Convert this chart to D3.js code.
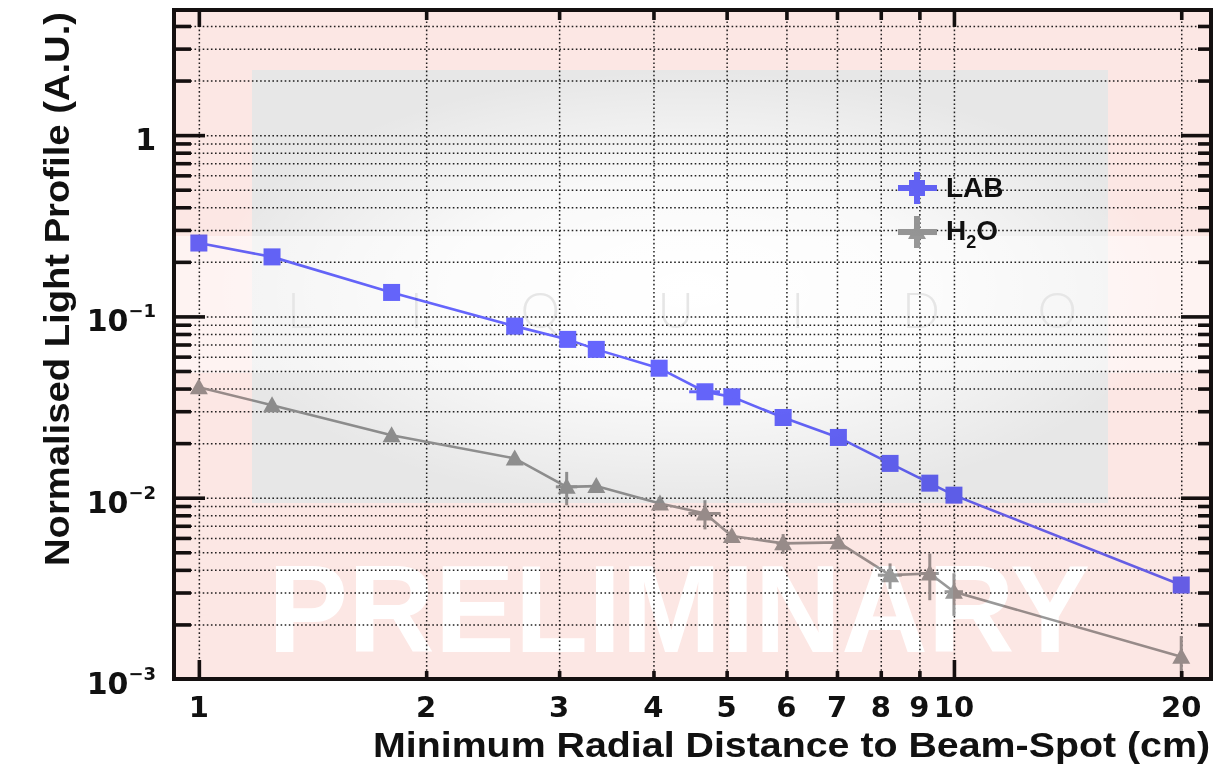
<!DOCTYPE html>
<html>
<head>
<meta charset="utf-8">
<script src="https://cdn.jsdelivr.net/npm/d3@7"></script>
<style>
  body { margin: 0; background: #fff; }
  svg { display: block; font-family: "Liberation Sans", Arial, sans-serif; }
</style>
</head>
<body>
<svg id="chart" width="1216" height="766"></svg>
<script>
// Light profile vs. minimum radial distance from the beam spot
const radiusLAB = [1.0, 1.25, 1.80, 2.62, 3.08, 3.36, 4.07, 4.68, 5.08, 5.94, 7.03, 8.23, 9.29, 10.0, 20.0];
const lightLAB  = [0.254, 0.213, 0.1356, 0.0884, 0.0747, 0.0658, 0.0518, 0.0384, 0.0360, 0.0277, 0.0215, 0.01546, 0.01203, 0.01033, 0.0033];
const xErrLAB   = [0, 0, 0, 0, 0, 0, 0, 0.22, 0, 0, 0, 0, 0, 0, 0];
const yErrLAB   = [0, 0, 0, 0, 0, 0, 0, 0, 0, 0, 0, 0, 0, 0, 0];

const radiusH2O = [1.0, 1.25, 1.80, 2.62, 3.07, 3.36, 4.08, 4.68, 5.08, 5.94, 7.03, 8.23, 9.29, 10.0, 20.0];
const lightH2O  = [0.0407, 0.0324, 0.0221, 0.01647, 0.01148, 0.01159, 0.0093, 0.00819, 0.00614, 0.0056, 0.00567, 0.00374, 0.00382, 0.00303, 0.001326];
const xErrH2O   = [0, 0, 0, 0, 0.10, 0, 0, 0.23, 0, 0.12, 0, 0.30, 0.26, 0.28, 0];
const yErrH2O   = [0.001, 0.0008, 0.0005, 0.0008, 0.0024, 0.0004, 0.0004, 0.0015, 0.0003, 0.0007, 0.0003, 0.0006, 0.0011, 0.0008, 0.0004];

const xTickValues = [1, 2, 3, 4, 5, 6, 7, 8, 9, 10, 20];
const xMajorTicks = [1, 10];
const yDecades    = [0.001, 0.01, 0.1, 1];
const yDecadeExp  = [-3, -2, -1, 0];

const xTitle = "Minimum Radial Distance to Beam-Spot (cm)";
const yTitle = "Normalised Light Profile (A.U.)";

const colLAB = "#6666ff";
const colH2O = "#999999";

const svg = d3.select("#chart");
const frame = { left: 174, right: 1211, top: 10, bottom: 679 };
const fw = frame.right - frame.left, fh = frame.bottom - frame.top;

const x = d3.scaleLog().domain([0.927, 21.9]).range([frame.left, frame.right]);
const y = d3.scaleLog().domain([0.001, 4.9]).range([frame.bottom, frame.top]);

// all 1..9 x 10^k values inside the y range
const yGrid = [];
for (let k = -3; k <= 0; k++) for (let m = 1; m <= 9; m++) {
  const v = m * Math.pow(10, k);
  if (v > 0.001 && v < 4.9) yGrid.push(+v.toPrecision(3));
}
const yMinor = yGrid.filter(v => !yDecades.includes(v));
const xMinor = xTickValues.filter(v => !xMajorTicks.includes(v));

const defs = svg.append("defs");
defs.append("clipPath").attr("id", "plotclip").append("rect")
  .attr("x", frame.left).attr("y", frame.top).attr("width", fw).attr("height", fh);

// ---- grid (dotted) ----
const grid = svg.append("g");
grid.append("g").attr("transform", `translate(${frame.left},0)`)
  .call(d3.axisLeft(y).tickValues(yGrid).tickSize(-fw).tickFormat(""))
  .call(g => g.select(".domain").remove());
grid.append("g").attr("transform", `translate(0,${frame.bottom})`)
  .call(d3.axisBottom(x).tickValues(xTickValues).tickSize(-fh).tickFormat(""))
  .call(g => g.select(".domain").remove());
grid.selectAll(".tick line")
  .attr("stroke", "#222").attr("stroke-width", 1.5).attr("stroke-dasharray", "1.6,2.5");

// ---- data ----
const lab = radiusLAB.map((r, i) => ({ r, v: lightLAB[i], ex: xErrLAB[i], ey: yErrLAB[i] }));
const h2o = radiusH2O.map((r, i) => ({ r, v: lightH2O[i], ex: xErrH2O[i], ey: yErrH2O[i] }));

const line = d3.line().x(d => x(d.r)).y(d => y(d.v));
const plot = svg.append("g").attr("clip-path", "url(#plotclip)");

function drawSeries(data, color, marker) {
  const g = plot.append("g");
  g.append("path").datum(data).attr("d", line)
    .attr("fill", "none").attr("stroke", color).attr("stroke-width", 2.6);
  // error bars
  g.selectAll("line.ey").data(data.filter(d => d.ey > 0)).join("line")
    .attr("x1", d => x(d.r)).attr("x2", d => x(d.r))
    .attr("y1", d => y(d.v + d.ey)).attr("y2", d => y(Math.max(d.v - d.ey, 1e-4)))
    .attr("stroke", color).attr("stroke-width", 3);
  g.selectAll("line.ex").data(data.filter(d => d.ex > 0)).join("line")
    .attr("x1", d => x(d.r - d.ex)).attr("x2", d => x(d.r + d.ex))
    .attr("y1", d => y(d.v)).attr("y2", d => y(d.v))
    .attr("stroke", color).attr("stroke-width", 3);
  if (marker === "square") {
    g.selectAll("rect").data(data).join("rect")
      .attr("x", d => x(d.r) - 8.5).attr("y", d => y(d.v) - 8.5)
      .attr("width", 17).attr("height", 17).attr("fill", color);
  } else {
    g.selectAll("path.m").data(data).join("path").attr("class", "m")
      .attr("d", d => { const cx = x(d.r), cy = y(d.v);
        return `M${cx - 9},${cy + 7}L${cx + 9},${cy + 7}L${cx},${cy - 9}Z`; })
      .attr("fill", color);
  }
}
drawSeries(lab, colLAB, "square");
drawSeries(h2o, colH2O, "triangle");

// ---- legend ----
const leg = svg.append("g");
function legendEntry(cy, color, marker) {
  leg.append("line").attr("x1", 898).attr("x2", 937).attr("y1", cy).attr("y2", cy)
    .attr("stroke", color).attr("stroke-width", 6);
  leg.append("line").attr("x1", 917).attr("x2", 917).attr("y1", cy - 16).attr("y2", cy + 16)
    .attr("stroke", color).attr("stroke-width", 6);
  if (marker === "square") {
    leg.append("rect").attr("x", 909).attr("y", cy - 8).attr("width", 16).attr("height", 16).attr("fill", color);
  } else {
    leg.append("path").attr("d", `M${908},${cy + 7}L${926},${cy + 7}L${917},${cy - 9}Z`).attr("fill", color);
  }
}
legendEntry(188, colLAB, "square");
legendEntry(232, colH2O, "triangle");
leg.append("text").attr("x", 946).attr("y", 197).attr("font-size", 28).attr("font-weight", "bold")
  .attr("fill", "#111").text("LAB");
const h2oText = leg.append("text").attr("x", 946).attr("y", 240).attr("font-size", 28)
  .attr("font-weight", "bold").attr("fill", "#111");
h2oText.append("tspan").text("H");
h2oText.append("tspan").attr("dy", 8).attr("font-size", 18).text("2");
h2oText.append("tspan").attr("dy", -8).text("O");

// ---- ticks ----
const tickCol = "#141010";
function ticks(g) {
  g.select(".domain").remove();
  g.selectAll(".tick line").attr("stroke", tickCol).attr("stroke-width", 3.6);
}
const axes = svg.append("g");
axes.append("g").attr("transform", `translate(${frame.left},0)`)
  .call(d3.axisLeft(y).tickValues(yDecades.slice(1)).tickSize(-31).tickFormat("")).call(ticks);
axes.append("g").attr("transform", `translate(${frame.left},0)`)
  .call(d3.axisLeft(y).tickValues(yMinor).tickSize(-17).tickFormat("")).call(ticks);
axes.append("g").attr("transform", `translate(${frame.right},0)`)
  .call(d3.axisRight(y).tickValues(yDecades.slice(1)).tickSize(-30).tickFormat("")).call(ticks);
axes.append("g").attr("transform", `translate(${frame.right},0)`)
  .call(d3.axisRight(y).tickValues(yMinor).tickSize(-13).tickFormat("")).call(ticks);
axes.append("g").attr("transform", `translate(0,${frame.bottom})`)
  .call(d3.axisBottom(x).tickValues(xMajorTicks).tickSize(-19).tickFormat("")).call(ticks);
axes.append("g").attr("transform", `translate(0,${frame.bottom})`)
  .call(d3.axisBottom(x).tickValues(xMinor).tickSize(-8).tickFormat("")).call(ticks);
axes.append("g").attr("transform", `translate(0,${frame.top})`)
  .call(d3.axisTop(x).tickValues(xMajorTicks).tickSize(-17).tickFormat("")).call(ticks);
axes.append("g").attr("transform", `translate(0,${frame.top})`)
  .call(d3.axisTop(x).tickValues(xMinor).tickSize(-10).tickFormat("")).call(ticks);

// frame
svg.append("rect").attr("x", frame.left).attr("y", frame.top).attr("width", fw).attr("height", fh)
  .attr("fill", "none").attr("stroke", tickCol).attr("stroke-width", 4);

// ---- background artwork, multiplied over the plot area ----
const art = svg.append("g").style("mix-blend-mode", "multiply").attr("clip-path", "url(#plotclip)");
const glow = defs.append("radialGradient").attr("id", "glow")
  .attr("cx", "50%").attr("cy", "50%").attr("r", "50%");
glow.append("stop").attr("offset", "0%").attr("stop-color", "#fff").attr("stop-opacity", 1);
glow.append("stop").attr("offset", "50%").attr("stop-color", "#fff").attr("stop-opacity", 0.75);
glow.append("stop").attr("offset", "100%").attr("stop-color", "#fff").attr("stop-opacity", 0);
art.append("rect").attr("x", frame.left).attr("y", frame.top).attr("width", fw).attr("height", fh)
  .attr("fill", "#fce7e4");
art.append("rect").attr("x", 252).attr("y", 70).attr("width", 856).attr("height", 433)
  .attr("fill", "#e7e7e7");
art.append("rect").attr("x", frame.left).attr("y", 236).attr("width", fw).attr("height", 137)
  .attr("fill", "#fff").attr("opacity", 0.5);
art.append("ellipse").attr("cx", 690).attr("cy", 290).attr("rx", 480).attr("ry", 220)
  .attr("fill", "url(#glow)");
art.append("text").attr("x", 287).attr("y", 328).attr("font-size", 50)
  .style("font-family", "Lato, 'Open Sans', sans-serif").attr("font-weight", 300)
  .attr("textLength", 790).attr("lengthAdjust", "spacing")
  .attr("fill", "#e6e6e6").text("LIQUIDO");
art.append("text").attr("x", 268).attr("y", 652).attr("font-size", 124).attr("font-weight", "bold")
  .attr("textLength", 822).attr("lengthAdjust", "spacingAndGlyphs")
  .attr("fill", "#fff").text("PRELIMINARY");

// ---- tick labels ----
const labels = svg.append("g").attr("fill", "#111")
  .style("font-family", "'DejaVu Sans', sans-serif").attr("font-weight", "bold");
labels.selectAll("text.xl").data(xTickValues).join("text").attr("class", "xl")
  .attr("x", d => x(d)).attr("y", 717).attr("text-anchor", "middle")
  .attr("font-size", 29).text(d => d);
yDecades.forEach((v, i) => {
  const t = labels.append("text").attr("x", 156).attr("y", y(v) + 15)
    .attr("text-anchor", "end").attr("font-size", 30);
  if (yDecadeExp[i] === 0) { t.text("1"); return; }
  t.append("tspan").text("10");
  t.append("tspan").attr("dy", -14).attr("font-size", 18).text("\u2212" + Math.abs(yDecadeExp[i]));
});

// ---- axis titles ----
svg.append("text").attr("x", 373).attr("y", 757).attr("font-size", 35).attr("font-weight", "bold")
  .attr("fill", "#111").attr("textLength", 837).attr("lengthAdjust", "spacingAndGlyphs").text(xTitle);
svg.append("text").attr("transform", "translate(69,566) rotate(-90)")
  .attr("font-size", 35).attr("font-weight", "bold").attr("fill", "#111")
  .attr("textLength", 554).attr("lengthAdjust", "spacingAndGlyphs").text(yTitle);
</script>
</body>
</html>
